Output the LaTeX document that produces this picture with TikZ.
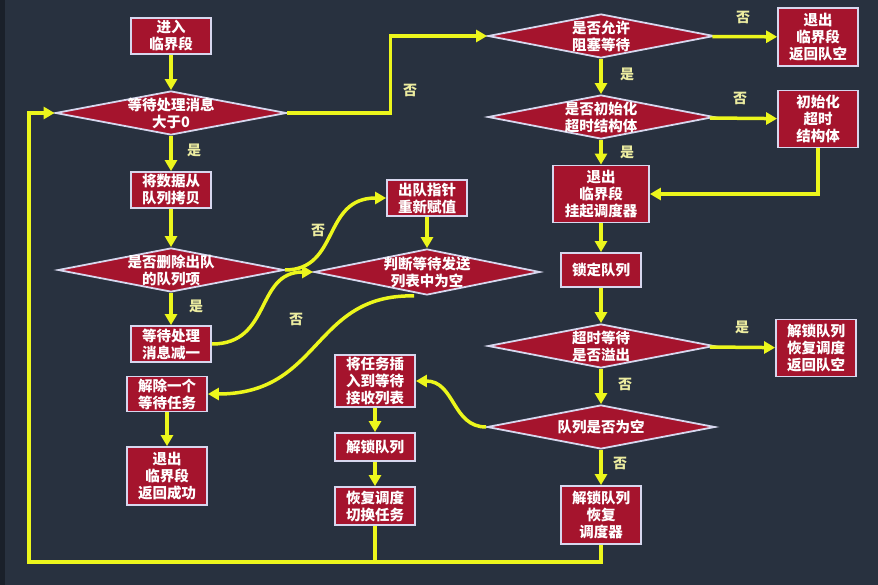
\documentclass[tikz,border=0pt]{standalone}
\usepackage{fontspec}
\newfontfamily\cjk{Noto Sans CJK SC}
\usetikzlibrary{
  shapes.geometric,
  arrows.meta
}
\definecolor{bgcol}{RGB}{40,49,63}
\definecolor{edgecol}{RGB}{26,32,42}
\definecolor{boxred}{RGB}{165,20,45}
\definecolor{boxline}{RGB}{215,215,238}
\definecolor{arrcol}{RGB}{236,246,28}
\definecolor{labcol}{RGB}{236,236,160}
\tikzset{>={Triangle[length=11pt,width=12pt]}}
\tikzset{
  box/.style={draw=boxline, line width=1.8pt, fill=boxred, text=white,
    align=center, minimum width=80pt, minimum height=36pt, inner sep=2pt,
    font=\cjk\bfseries\fontsize{14.5}{17}\selectfont},
  dia/.style={diamond, draw=boxline, line width=1.8pt, fill=boxred,
    text=white, align=center, minimum width=226pt, minimum height=44pt,
    inner xsep=0pt, inner ysep=-6pt, aspect=5,
    font=\cjk\bfseries\fontsize{14.5}{17}\selectfont},
  arr/.style={->, draw=arrcol, line width=3.5pt},
  lnk/.style={draw=arrcol, line width=3.5pt},
  yn/.style={text=labcol, font=\cjk\bfseries\fontsize{14}{14}\selectfont}
}
\begin{document}
\begin{tikzpicture}[x=1pt,y=-1pt]
  \fill[bgcol] (0,0) rectangle (878,585);
  \fill[edgecol] (0,0) rectangle (5,585);
  \useasboundingbox (0,0) rectangle (878,585);
  % left column
  \node[box] (enter) at (171,36) {进入\\临界段};
  \node[dia, minimum width=231pt] (waitgt) at (171,113) {等待处理消息\\大于0};
  \node[box] (copy) at (171,190) {将数据从\\队列拷贝};
  \node[dia] (delq) at (171,270) {是否删除出队\\的队列项};
  \node[box] (dec) at (171,344) {等待处理\\消息减一};
  \node[box, minimum height=35pt] (unblock) at (167,394) {解除一个\\等待任务};
  \node[box, minimum height=58pt] (exitok) at (167,476) {退出\\临界段\\返回成功};
  % middle
  \node[box] (resetp) at (427,198) {出队指针\\重新赋值};
  \node[dia, minimum height=46pt] (chksend) at (427,272) {判断等待发送\\列表中为空};
  \node[box, minimum height=51pt] (insert) at (375,381) {将任务插\\入到等待\\接收列表};
  \node[box, minimum height=28pt] (unlock) at (375,447) {解锁队列};
  \node[box, minimum height=38pt] (resume) at (375,506) {恢复调度\\切换任务};
  % right column
  \node[dia] (allowblk) at (601,36) {是否允许\\阻塞等待};
  \node[box, minimum height=58pt] (exitempty) at (818,37) {退出\\临界段\\返回队空};
  \node[dia] (inittmo) at (601,117) {是否初始化\\超时结构体};
  \node[box, minimum height=57pt] (initbox) at (818,119) {初始化\\超时\\结构体};
  \node[box, minimum width=96pt, minimum height=57pt] (suspend) at (601,194) {退出\\临界段\\挂起调度器};
  \node[box, minimum height=34pt] (lockq) at (601,270) {锁定队列};
  \node[dia] (tmo) at (601,346) {超时等待\\是否溢出};
  \node[box, minimum height=57pt] (unlockexit) at (816,348) {解锁队列\\恢复调度\\返回队空};
  \node[dia, minimum width=228pt] (qempty) at (601,427) {队列是否为空};
  \node[box, minimum height=58pt] (unlocksched) at (601,515) {解锁队列\\恢复\\调度器};
  \coordinate (bot) at (29,562);

  \draw[arr] (enter) -- (waitgt);
  \draw[arr] (waitgt) -- (copy);
  \draw[arr] (copy) -- (delq);
  \draw[arr] (delq) -- (dec);
  \draw[arr] (delq.east) .. controls (340,270) and (322,198) .. (resetp.west);
  \draw[arr] (dec.east) .. controls (272,344) and (255,272) .. (chksend.west);
  \draw[arr] (resetp) -- (chksend);
  \draw[arr] ([xshift=-13pt]chksend.south) .. controls (312,294) and (322,394) .. (unblock.east);
  \draw[arr] (unblock) -- (exitok);
  \draw[arr] (waitgt.east) -- ++(103,0) |- (allowblk.west);
  \draw[arr] (allowblk) -- (exitempty);
  \draw[arr] (allowblk) -- (inittmo);
  \draw[arr] (inittmo) -- (initbox);
  \draw[arr] (inittmo) -- (suspend);
  \draw[arr] (initbox.south) |- (suspend.east);
  \draw[arr] (suspend) -- (lockq);
  \draw[arr] (lockq) -- (tmo);
  \draw[arr] (tmo) -- (unlockexit);
  \draw[arr] (tmo) -- (qempty);
  \draw[arr] (qempty) -- (unlocksched);
  \draw[arr] (qempty.west) .. controls (452,427) and (455,381) .. (insert.east);
  \draw[arr] (insert) -- (unlock);
  \draw[arr] (unlock) -- (resume);
  \draw[lnk] (resume.south) -- (resume.south |- bot);
  \draw[arr] (unlocksched.south) |- (bot) |- (waitgt.west);

  \node[yn] at (194,150) {是};
  \node[yn] at (196,306) {是};
  \node[yn] at (318,230) {否};
  \node[yn] at (296,319) {否};
  \node[yn] at (410,90) {否};
  \node[yn] at (743,17) {否};
  \node[yn] at (627,74) {是};
  \node[yn] at (740,98) {否};
  \node[yn] at (627,152) {是};
  \node[yn] at (742,327) {是};
  \node[yn] at (625,384) {否};
  \node[yn] at (620,463) {否};
\end{tikzpicture}
\end{document}
